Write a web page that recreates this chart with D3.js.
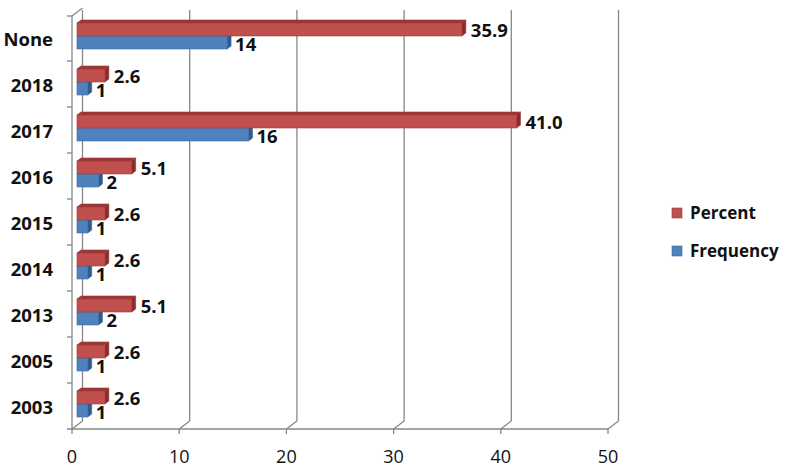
<!DOCTYPE html>
<html><head><meta charset="utf-8">
<script src="https://cdn.jsdelivr.net/npm/d3@7"></script>
<style>body{margin:0;background:#fff}svg{display:block}</style>
</head><body>
<svg id="c" width="785" height="469"></svg>
<script>
const categories = ["None","2018","2017","2016","2015","2014","2013","2005","2003"];
const percent    = [35.9, 2.6, 41.0, 5.1, 2.6, 2.6, 5.1, 2.6, 2.6];
const percentLabels = ["35.9","2.6","41.0","5.1","2.6","2.6","5.1","2.6","2.6"];
const frequency  = [14, 1, 16, 2, 1, 1, 2, 1, 1];
const xTicks     = [0, 10, 20, 30, 40, 50];
const seriesNames = ["Percent","Frequency"];

const svg = d3.select("#c");
const font = "'Open Sans', sans-serif";
const x = d3.scaleLinear().domain([0,50]).range([72,608]);
const y = d3.scaleBand().domain(categories).range([15,429]).padding(0);
const DX = 10.5, DY = -8;       // wall depth
const gridC = "#878787";

const g = svg.append("g");
xTicks.forEach(v => {
  g.append("line").attr("x1",x(v)+DX).attr("x2",x(v)+DX).attr("y1",429+DY).attr("y2",10)
    .attr("stroke",gridC).attr("stroke-width",1.3);
  g.append("line").attr("x1",x(v)).attr("x2",x(v)+DX).attr("y1",429).attr("y2",429+DY)
    .attr("stroke",gridC).attr("stroke-width",1.3);
  g.append("line").attr("x1",x(v)).attr("x2",x(v)).attr("y1",429).attr("y2",434)
    .attr("stroke",gridC).attr("stroke-width",1.3);
});
g.append("line").attr("x1",72).attr("x2",72).attr("y1",16).attr("y2",429).attr("stroke",gridC).attr("stroke-width",1.3);
g.append("line").attr("x1",72).attr("x2",72+DX).attr("y1",16).attr("y2",16+DY).attr("stroke",gridC).attr("stroke-width",1.3);
g.append("line").attr("x1",67).attr("x2",608).attr("y1",429).attr("y2",429).attr("stroke",gridC).attr("stroke-width",1.3);
categories.forEach(c => {
  const yy = y(c) + (c===categories[0]?1:0);
  g.append("line").attr("x1",67).attr("x2",72).attr("y1",yy).attr("y2",yy)
    .attr("stroke",gridC).attr("stroke-width",1.3);
});

const bx = v => x(v) + 5;
const H = 13, d = 4, dy = 3;
function bar(v, top, front, topC, sideC, stroke) {
  const x0 = bx(0), x1 = bx(v);
  g.append("path").attr("d",`M${x0},${top}L${x0+d},${top-dy}L${x1+d},${top-dy}L${x1},${top}Z`).attr("fill",topC).attr("stroke",stroke).attr("stroke-width",0.6);
  g.append("path").attr("d",`M${x1},${top}L${x1+d},${top-dy}L${x1+d},${top+H-dy}L${x1},${top+H}Z`).attr("fill",sideC).attr("stroke",stroke).attr("stroke-width",0.6);
  g.append("rect").attr("x",x0).attr("y",top).attr("width",x1-x0).attr("height",H).attr("fill",front).attr("stroke",stroke).attr("stroke-width",0.6);
}
categories.forEach((c,i) => {
  const b = y(c);
  const fy = b + 21, py = b + 8;
  bar(frequency[i], fy, "#4F81BD", "#3A679E", "#2E5A8E", "#3D6CA3");
  bar(percent[i], py, "#C0504D", "#9C3533", "#8B2C2A", "#9E3B39");
  g.append("text").attr("x",bx(percent[i])+d+5).attr("y",py+H+1).text(percentLabels[i])
    .attr("font-family",font).attr("font-weight","bold").attr("font-size",18.5).attr("fill","#111");
  g.append("text").attr("x",bx(frequency[i])+d+4).attr("y",fy+H+2).text(frequency[i])
    .attr("font-family",font).attr("font-weight","bold").attr("font-size",18.5).attr("fill","#111");
  g.append("text").attr("x",53).attr("y",b+y.bandwidth()/2+8).attr("text-anchor","end").text(c)
    .attr("font-family",font).attr("font-weight","bold").attr("font-size",18.5).attr("fill","#111");
});
xTicks.forEach(v => {
  g.append("text").attr("x",x(v)).attr("y",463).attr("text-anchor","middle").text(v)
    .attr("font-family",font).attr("font-size",18).attr("fill","#111");
});
const legC = ["#C0504D","#4F81BD"], legY = [213, 251];
seriesNames.forEach((s,i) => {
  g.append("rect").attr("x",672).attr("y",legY[i]-5).attr("width",10).attr("height",10).attr("fill",legC[i])
    .attr("stroke", i===0?"#9E3B39":"#3D6CA3").attr("stroke-width",0.6);
  g.append("text").attr("x",690).attr("y",legY[i]+6).text(s)
    .attr("font-family",font).attr("font-weight","bold").attr("font-size",17).attr("fill","#111");
});
</script>
</body></html>
